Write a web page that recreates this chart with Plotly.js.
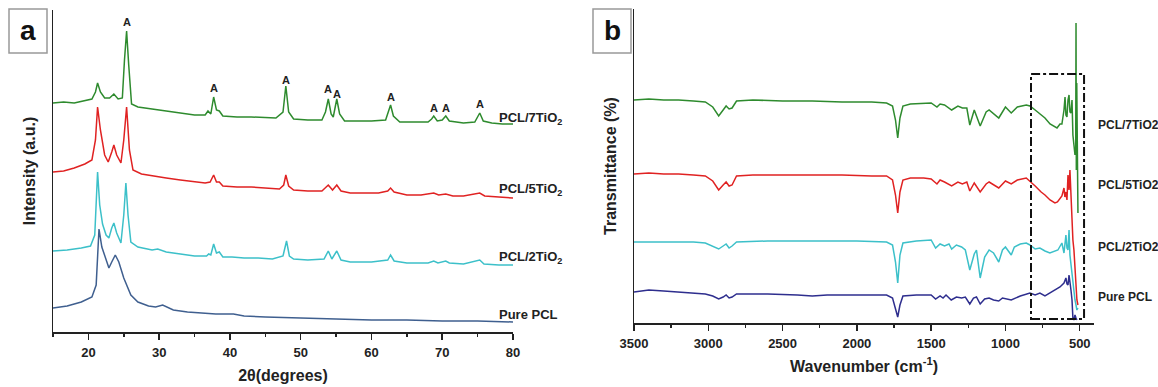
<!DOCTYPE html>
<html>
<head>
<meta charset="utf-8">
<script src="https://cdn.plot.ly/plotly-3.0.1.min.js"></script>
<style>html,body{margin:0;padding:0;background:#fff;}#chart{width:1158px;height:387px;}</style>
</head>
<body>
<div id="chart"></div>
<script>
// ---------- Panel a: XRD (2θ in degrees, intensity in a.u., curves offset) ----------
const xrd7_x = [15,16.5,18,19.5,20.5,21,21.3,21.7,22.3,23,23.6,24.2,24.8,25.1,25.4,25.7,26.1,27,29,31,33,35,36.5,36.9,37.3,37.7,38.1,38.5,39,41,43,45,46.5,47.5,47.9,48.3,49,51,53,53.5,53.9,54.3,54.6,55.1,55.5,56.2,58,60,62,62.4,62.7,63.1,64,66,68,68.5,68.8,69.3,70,70.5,71,73,74.6,75.3,75.8,77,78.5,80];
const xrd7_y = [229,230,229,231,233,240,249,240,234,234,238,233,234,272,301,267,228,225,223,221,219,217,217,221,218,235,222,221,216,215,215,214,214,220,246,220,213,212,212,220,233,218,215,233,218,211,211,211,212,220,227,216,210,210,210,213,216,211,212,216,211,209,210,219,211,209,208,208];

const xrd5_x = [15,16.5,18,19.5,20.5,21,21.3,21.7,22.3,22.8,23.3,23.6,24,24.6,25,25.4,25.8,26.3,27.5,29,31,33,35,36.5,37.2,37.7,38.1,38.5,39,41,43,45,47,47.6,47.9,48.3,49,51,53,53.9,54.5,55.1,55.7,57,59,61,62.3,62.7,63.2,65,67,68.8,69.5,70.5,71.5,73,75.3,76,78,80];
const xrd5_y = [160,161,164,168,172,192,225,202,177,170,180,187,177,169,192,225,182,162,158,156,154,152,150,149,150,157,150,150,146,145,145,144,143,147,157,146,142,141,141,147,142,147,141,139,139,139,141,144,140,137,137,139,137,138,136,136,139,136,135,134];

const xrd2_x = [15,17,19,20.3,20.9,21.3,21.6,22,22.5,22.9,23.3,23.6,24,24.6,25,25.3,25.6,26,27,29,29.8,31,33,35,36.7,37,37.3,37.7,38.1,38.5,39,40.3,42,44,46,47.5,48,48.4,49,51,53.3,53.9,54.4,55.1,55.7,57,60,62.3,62.7,63.2,65,68,68.8,69.4,70.5,71,73,75.3,75.9,78,80];
const xrd2_y = [81,82,84,86,97,160,127,108,97,94,104,109,99,89,117,149,117,90,85,82,83,80,78,76,76,78,77,88,79,80,75,75,74,74,73,76,91,76,73,72,73,81,73,81,72,70,70,72,77,71,69,69,71,69,71,69,68,72,68,67,67];

const xrd0_x = [15,17,19,20.5,21.1,21.5,21.9,22.4,22.9,23.3,23.8,24.3,25,26,27,28.5,29.5,30.5,32,34,36,38,40.5,42,45,50,55,60,65,70,75,80];
const xrd0_y = [24,26,30,35,47,103,85,74,64,70,77,70,54,37,30,26,25,27,22,20,19,18,18,16,15,14,13,12,12,11,11,10];

// anatase reflections marked "A" (2θ, label height)
const anatase_x = [25.4,37.7,47.9,53.8,55.2,62.7,68.8,70.5,75.3];
const anatase_y = [310,244,252,243,238,235,224,224,228];

// ---------- Panel b: FTIR (wavenumber cm-1, transmittance offset) ----------
const ir7_x = [3500,3400,3300,3200,3100,3020,2970,2930,2900,2880,2860,2840,2810,2700,2500,2300,2100,1900,1800,1760,1740,1725,1710,1690,1640,1550,1500,1461,1440,1410,1362,1320,1290,1260,1240,1210,1170,1130,1110,1045,1000,961,920,860,835,800,760,734,700,667,653,633,620,606,599,593,586,579,572,566,559,552,546,539,532,527,525,523,520,517,512];
const ir7_y = [223,224,223,223,222,221,216,207,213,217,214,215,222,223,222,222,221,221,220,217,203,185,205,217,219,220,220,216,219,218,213,217,215,215,198,213,197,211,213,205,216,210,216,218,217,213,208,205,199,196,195,199,199,213,226,208,206,223,228,211,210,223,188,178,168,173,300,153,240,133,110];

const ir5_x = [3500,3400,3300,3200,3100,3020,2970,2930,2900,2880,2860,2840,2810,2700,2500,2300,2100,1900,1800,1760,1740,1725,1710,1690,1640,1550,1500,1461,1440,1410,1362,1320,1290,1260,1240,1210,1170,1130,1110,1045,1000,961,920,860,835,800,760,734,700,667,650,633,620,606,600,593,586,579,572,566,559,552,546,539,532,525,519,512];
const ir5_y = [149,150,149,149,148,147,142,133,138,141,137,138,147,148,148,148,148,147,147,143,128,110,131,143,145,145,144,139,143,141,137,141,139,141,132,140,131,139,141,135,142,139,143,145,142,137,131,128,123,120,121,125,127,135,126,131,123,148,133,153,123,108,83,73,58,33,23,18];

const ir2_x = [3500,3300,3100,3020,2970,2930,2900,2880,2860,2840,2810,2600,2400,2200,2000,1800,1760,1740,1725,1710,1690,1600,1520,1500,1470,1440,1410,1380,1362,1330,1295,1270,1240,1210,1195,1170,1140,1110,1080,1045,1020,1000,961,940,900,860,835,800,768,734,701,667,647,620,606,593,586,579,572,566,552,546,539,532,525,519,512];
const ir2_y = [81,81,81,80,77,74,77,79,75,77,81,82,82,82,82,81,78,61,40,68,80,82,83,83,75,79,77,79,74,78,76,73,53,69,73,45,66,73,70,61,73,76,68,76,79,80,78,74,75,72,70,72,73,80,70,88,75,73,93,68,48,43,33,23,18,13,15];

const ir0_x = [3500,3400,3300,3200,3100,3020,2970,2930,2900,2880,2860,2840,2810,2600,2400,2300,2200,2000,1800,1760,1740,1725,1710,1690,1600,1500,1470,1440,1420,1400,1365,1330,1295,1270,1240,1215,1195,1170,1140,1110,1080,1045,1020,961,900,860,835,800,768,734,701,667,633,606,593,586,579,572,566,559,552,546,539,532,525,519];
const ir0_y = [31,33,32,31,30,29,27,24,26,28,25,26,29,29,28,27,28,28,28,25,15,6,18,27,28,28,24,27,25,28,23,26,25,26,19,25,26,19,24,25,23,22,25,23,27,29,30,28,30,27,30,33,36,40,45,39,38,48,43,33,23,5,3,8,5,3];

// highlighted region (wavenumber span, transmittance span)
const boxWn = [828, 471];
const boxT = [4, 249];

const seriesA = ["PCL/7TiO<sub>2</sub>", "PCL/5TiO<sub>2</sub>", "PCL/2TiO<sub>2</sub>", "Pure PCL"];
const labelA_y = [214, 143, 75, 18];
const seriesB = ["PCL/7TiO2", "PCL/5TiO2", "PCL/2TiO2", "Pure PCL"];
const labelB_y = [198, 138, 76, 26];

// ---------- styling ----------
const FONT = "'Liberation Sans', Arial, Helvetica, sans-serif";
const cGreen = '#2e8b2e', cRed = '#e02222', cCyan = '#3cc0c9', cSlate = '#3f5f8f', cNavy = '#2e2e8e';
const W = 1158, H = 387;
const px = v => v / W, py = v => (H - v) / H;

function line(x, y, color, xa, ya) {
  return {x: x, y: y, type: 'scatter', mode: 'lines', line: {color: color, width: 1.5},
          xaxis: xa, yaxis: ya, hoverinfo: 'skip', showlegend: false};
}

const data = [
  line(xrd0_x, xrd0_y, cSlate, 'x', 'y'),
  line(xrd2_x, xrd2_y, cCyan, 'x', 'y'),
  line(xrd5_x, xrd5_y, cRed, 'x', 'y'),
  line(xrd7_x, xrd7_y, cGreen, 'x', 'y'),
  line(ir2_x, ir2_y, cCyan, 'x2', 'y2'),
  line(ir0_x, ir0_y, cNavy, 'x2', 'y2'),
  line(ir5_x, ir5_y, cRed, 'x2', 'y2'),
  line(ir7_x, ir7_y, cGreen, 'x2', 'y2')
];

const axisCommon = {
  showline: true, linecolor: '#222', linewidth: 1.5, showgrid: false, zeroline: false,
  mirror: false, fixedrange: true
};
const xCommon = Object.assign({}, axisCommon, {
  ticks: 'outside', ticklen: 6, tickwidth: 1.5, tickcolor: '#222',
  tickfont: {family: FONT, size: 13, color: '#222', weight: 'bold'},
  ticklabelstandoff: 2
});
const yCommon = Object.assign({}, axisCommon, {ticks: '', showticklabels: false});

const annotations = [];
anatase_x.forEach((x, i) => annotations.push({
  x: x, y: anatase_y[i], xref: 'x', yref: 'y', text: 'A', showarrow: false,
  font: {family: FONT, size: 11, color: '#222', weight: 'bold'}, xanchor: 'center', yanchor: 'middle'
}));
seriesA.forEach((t, i) => annotations.push({
  x: px(497), y: labelA_y[i], xref: 'paper', yref: 'y', text: t, showarrow: false,
  font: {family: FONT, size: 13, color: '#222', weight: 'bold'}, xanchor: 'left', yanchor: 'middle'
}));
seriesB.forEach((t, i) => annotations.push({
  x: px(1096), y: labelB_y[i], xref: 'paper', yref: 'y2', text: t, showarrow: false,
  font: {family: FONT, size: 12, color: '#222', weight: 'bold'}, xanchor: 'left', yanchor: 'middle'
}));
annotations.push({x: px(28), y: py(31), xref: 'paper', yref: 'paper', text: 'a', showarrow: false,
  font: {family: FONT, size: 28, color: '#111', weight: 'bold'}, xanchor: 'center', yanchor: 'middle'});
annotations.push({x: px(612), y: py(31), xref: 'paper', yref: 'paper', text: 'b', showarrow: false,
  font: {family: FONT, size: 28, color: '#111', weight: 'bold'}, xanchor: 'center', yanchor: 'middle'});

const shapes = [
  {type: 'rect', xref: 'paper', yref: 'paper', x0: px(9), x1: px(47), y0: py(53), y1: py(9),
   line: {color: '#999', width: 1.5}, fillcolor: '#fff', layer: 'below'},
  {type: 'rect', xref: 'paper', yref: 'paper', x0: px(593), x1: px(631), y0: py(53), y1: py(9),
   line: {color: '#999', width: 1.5}, fillcolor: '#fff', layer: 'below'},
  {type: 'rect', xref: 'x2', yref: 'y2', x0: boxWn[0], x1: boxWn[1], y0: boxT[0], y1: boxT[1],
   line: {color: '#111', width: 2, dash: 'dashdot'}, fillcolor: 'rgba(0,0,0,0)'}
];

const layout = {
  width: W, height: H, margin: {l: 0, r: 0, t: 0, b: 0},
  paper_bgcolor: '#fff', plot_bgcolor: '#fff', showlegend: false,
  font: {family: FONT, color: '#222'},
  xaxis: Object.assign({}, xCommon, {
    domain: [px(53), px(513)], anchor: 'y', range: [15, 80], dtick: 10, tick0: 0,
    minor: {dtick: 5, ticks: 'outside', ticklen: 3, tickwidth: 1.5, tickcolor: '#222'},
    title: {text: '2θ(degrees)', font: {family: FONT, size: 16, color: '#222', weight: 'bold'}, standoff: 10}
  }),
  yaxis: Object.assign({}, yCommon, {
    domain: [py(332), py(10)], anchor: 'x', range: [0, 322],
    title: {text: 'Intensity (a.u.)', font: {family: FONT, size: 16, color: '#222', weight: 'bold'}, standoff: 12}
  }),
  xaxis2: Object.assign({}, xCommon, {
    domain: [px(634), px(1094)], anchor: 'y2', range: [3500, 404], dtick: 500, tick0: 0,
    minor: {dtick: 250, ticks: 'outside', ticklen: 3, tickwidth: 1.5, tickcolor: '#222'},
    title: {text: 'Wavenumber (cm<sup>-1</sup>)', font: {family: FONT, size: 16, color: '#222', weight: 'bold'}, standoff: 10}
  }),
  yaxis2: Object.assign({}, yCommon, {
    domain: [py(323), py(9)], anchor: 'x2', range: [0, 314],
    title: {text: 'Transmittance (%)', font: {family: FONT, size: 16, color: '#222', weight: 'bold'}, standoff: 12}
  }),
  annotations: annotations,
  shapes: shapes
};

Plotly.newPlot('chart', data, layout, {displayModeBar: false, staticPlot: true});
</script>
</body>
</html>
